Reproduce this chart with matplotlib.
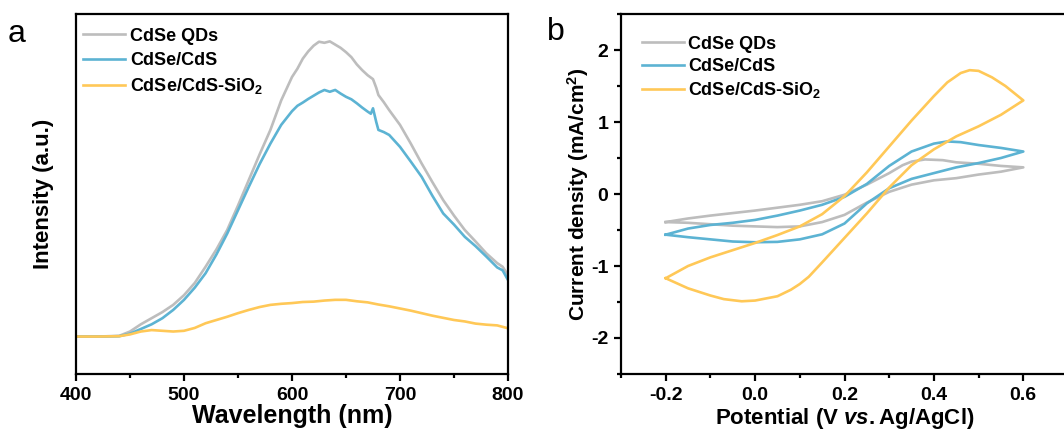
import matplotlib
matplotlib.use("Agg")
import matplotlib.pyplot as plt
from matplotlib.ticker import MultipleLocator

plt.rcParams['font.family'] = ['Liberation Sans', 'DejaVu Sans']
plt.rcParams['font.weight'] = 'bold'
plt.rcParams['mathtext.fontset'] = 'custom'
plt.rcParams['mathtext.default'] = 'regular'
plt.rcParams['mathtext.it'] = 'Liberation Sans:italic:bold'
plt.rcParams['mathtext.rm'] = 'Liberation Sans:bold'

# ---------------- Panel a: PL spectra ----------------
series_names = ['CdSe QDs', 'CdSe/CdS', r'CdSe/CdS-SiO$_2$']
colors = ['#bdbdbd', '#5cb3d3', '#ffc857']

wl_ticks = [400, 500, 600, 700, 800]

wl_qd = [400, 420, 440, 450, 460, 470, 480, 490, 500, 510, 520, 530, 540, 550, 560, 570, 580,
         590, 600, 605, 610, 615, 620, 625, 630, 635, 640, 645, 650, 655, 660, 665, 670, 675,
         678, 680, 685, 690, 700, 710, 720, 730, 740, 750, 760, 770, 780, 790, 795, 800]
pl_qd = [10.4, 10.4, 10.6, 11.8, 13.8, 15.5, 17.2, 19.2, 21.9, 25.3, 29.8, 34.6, 40.0, 46.8, 53.9,
         61.0, 67.8, 76.0, 82.5, 84.8, 87.6, 89.6, 91.2, 92.3, 92.0, 92.4, 91.5, 90.6, 89.4, 88.0,
         86.0, 84.4, 83.0, 81.9, 79.5, 77.5, 75.5, 73.3, 69.2, 64.0, 58.5, 53.3, 48.3, 44.0, 40.0,
         36.8, 33.5, 30.8, 29.8, 27.5]

wl_cds = [400, 420, 440, 450, 460, 470, 480, 490, 500, 510, 520, 530, 540, 550, 560, 570, 580,
          590, 600, 605, 610, 615, 620, 625, 630, 635, 640, 645, 650, 655, 660, 665, 670, 673,
          675, 678, 680, 685, 690, 700, 710, 720, 730, 740, 750, 760, 770, 780, 790, 795, 800]
pl_cds = [10.4, 10.4, 10.5, 11.2, 12.5, 13.8, 15.5, 17.8, 20.6, 24.0, 28.0, 33.2, 39.0, 45.5, 52.0,
          58.3, 64.0, 69.2, 73.0, 74.5, 75.4, 76.4, 77.3, 78.2, 78.9, 78.4, 78.9, 77.9, 77.0, 76.3,
          75.2, 74.0, 72.9, 72.3, 73.8, 70.0, 67.8, 67.2, 66.4, 63.1, 59.0, 54.8, 49.5, 44.6, 41.5,
          38.1, 35.5, 32.6, 29.6, 28.8, 26.1]

wl_sio = [400, 420, 440, 450, 460, 470, 480, 490, 500, 510, 520, 530, 540, 550, 560, 570, 580,
          590, 600, 610, 620, 630, 640, 650, 660, 670, 680, 690, 700, 710, 720, 730, 740, 750,
          760, 770, 780, 790, 800]
pl_sio = [10.4, 10.4, 10.5, 11.0, 11.8, 12.2, 12.0, 11.8, 12.0, 12.8, 14.1, 15.0, 15.9, 16.9, 17.8,
          18.6, 19.2, 19.5, 19.7, 20.0, 20.1, 20.4, 20.6, 20.6, 20.2, 19.9, 19.3, 18.8, 18.2, 17.6,
          16.9, 16.2, 15.6, 15.0, 14.6, 14.0, 13.7, 13.5, 12.7]

# ---------------- Panel b: CV curves (closed loops) ----------------
pot_ticks = [-0.2, 0.0, 0.2, 0.4, 0.6]
pot_tick_labels = ['-0.2', '0.0', '0.2', '0.4', '0.6']
cur_ticks = [-2, -1, 0, 1, 2]
cur_tick_labels = ['-2', '-1', '0', '1', '2']

v_qd = [-0.2, -0.15, -0.1, -0.05, 0.0, 0.05, 0.1, 0.15, 0.2, 0.25, 0.3, 0.33, 0.35, 0.38, 0.42,
        0.45, 0.5, 0.55, 0.6,
        0.55, 0.5, 0.45, 0.4, 0.35, 0.3, 0.25, 0.2, 0.15, 0.1, 0.05, 0.0, -0.05, -0.1, -0.15, -0.2]
j_qd = [-0.39, -0.34, -0.30, -0.265, -0.23, -0.19, -0.15, -0.10, -0.01, 0.13, 0.29, 0.40, 0.45,
        0.48, 0.47, 0.44, 0.42, 0.39, 0.37,
        0.31, 0.27, 0.22, 0.19, 0.13, 0.03, -0.12, -0.29, -0.39, -0.45, -0.46, -0.45, -0.44,
        -0.42, -0.40, -0.39]

v_cds = [-0.2, -0.15, -0.1, -0.05, 0.0, 0.05, 0.1, 0.15, 0.2, 0.25, 0.3, 0.35, 0.4, 0.43, 0.46,
         0.5, 0.55, 0.6,
         0.55, 0.5, 0.45, 0.4, 0.35, 0.3, 0.25, 0.2, 0.15, 0.1, 0.05, 0.0, -0.05, -0.1, -0.15, -0.2]
j_cds = [-0.565, -0.48, -0.43, -0.40, -0.36, -0.30, -0.23, -0.15, -0.04, 0.14, 0.39, 0.59, 0.70,
         0.73, 0.72, 0.68, 0.64, 0.59,
         0.50, 0.43, 0.37, 0.29, 0.21, 0.08, -0.13, -0.41, -0.56, -0.63, -0.665, -0.67, -0.66,
         -0.63, -0.60, -0.565]

v_sio = [-0.2, -0.15, -0.1, -0.05, 0.0, 0.05, 0.1, 0.15, 0.2, 0.25, 0.3, 0.35, 0.4, 0.43, 0.46,
         0.48, 0.5, 0.53, 0.56, 0.6,
         0.55, 0.5, 0.45, 0.4, 0.35, 0.3, 0.25, 0.2, 0.15, 0.12, 0.1, 0.08, 0.05, 0.0,
         -0.03, -0.07, -0.1, -0.15, -0.2]
j_sio = [-1.17, -1.0, -0.88, -0.78, -0.68, -0.57, -0.45, -0.28, -0.03, 0.30, 0.66, 1.02, 1.36,
         1.55, 1.68, 1.72, 1.71, 1.62, 1.50, 1.30,
         1.10, 0.94, 0.80, 0.62, 0.40, 0.09, -0.27, -0.61, -0.95, -1.15, -1.25, -1.33,
         -1.42, -1.48, -1.49, -1.46, -1.41, -1.31, -1.17]

pl_data = [(wl_qd, pl_qd), (wl_cds, pl_cds), (wl_sio, pl_sio)]
cv_data = [(v_qd, j_qd), (v_cds, j_cds), (v_sio, j_sio)]

W, H = 1064, 434
fig = plt.figure(figsize=(W / 100, H / 100), dpi=100)

def px_axes(left, top, right, bottom):
    return fig.add_axes([left / W, 1 - bottom / H, (right - left) / W, (bottom - top) / H])

lw = 1.9
spine_w = 1.6
tick_fs = 14
leg_prop = {'weight': 'bold', 'size': 13}

# Panel a
axa = px_axes(76, 14, 508, 374)
for (x, y), c, n in zip(pl_data, colors, series_names):
    axa.plot(x, y, color=c, lw=lw, label=n)
axa.set_xlim(400, 800)
axa.set_ylim(0, 100)
axa.set_xticks(wl_ticks)
axa.set_xticklabels([str(t) for t in wl_ticks], fontweight='bold')
axa.xaxis.set_minor_locator(MultipleLocator(50))
axa.set_yticks([])
axa.set_xlabel('Wavelength (nm)', fontsize=18, fontweight='bold', labelpad=0)
axa.set_ylabel('Intensity (a.u.)', fontsize=16, fontweight='bold', labelpad=16)
axa.legend(loc='upper left', bbox_to_anchor=(0.016, 0.962), frameon=False,
           handlelength=2.35, handletextpad=0.28, labelspacing=0.4,
           borderaxespad=0, borderpad=0, prop=leg_prop)

# Panel b
axb = px_axes(621, 14, 1068, 374)
for (x, y), c, n in zip(cv_data, colors, series_names):
    axb.plot(x, y, color=c, lw=lw, label=n)
axb.set_xlim(-0.3, 0.7)
axb.set_ylim(-2.5, 2.5)
axb.set_xticks(pot_ticks)
axb.set_xticklabels(pot_tick_labels, fontweight='bold')
axb.set_yticks(cur_ticks)
axb.set_yticklabels(cur_tick_labels, fontweight='bold')
axb.xaxis.set_minor_locator(MultipleLocator(0.1))
axb.yaxis.set_minor_locator(MultipleLocator(0.5))
axb.set_xlabel(r'Potential (V $\mathit{vs.}$Ag/AgCl)', fontsize=16, fontweight='bold',
               labelpad=2)
axb.set_ylabel(r'Current density (mA/cm$^2$)', fontsize=15, fontweight='bold', labelpad=0)
axb.legend(loc='upper left', bbox_to_anchor=(0.047, 0.94), frameon=False,
           handlelength=2.35, handletextpad=0.2, labelspacing=0.3,
           borderaxespad=0, borderpad=0, prop=leg_prop)

for ax in (axa, axb):
    for s in ax.spines.values():
        s.set_linewidth(spine_w)
    ax.tick_params(which='major', direction='out', length=5, width=spine_w, labelsize=tick_fs, pad=4)
    ax.tick_params(which='minor', direction='out', length=3, width=spine_w)

fig.text(8 / W, 1 - 42 / H, 'a', fontsize=23, fontweight='normal', ha='left', va='baseline')
fig.text(547 / W, 1 - 40 / H, 'b', fontsize=23, fontweight='normal', ha='left', va='baseline')

fig.savefig('out.png', dpi=100)
